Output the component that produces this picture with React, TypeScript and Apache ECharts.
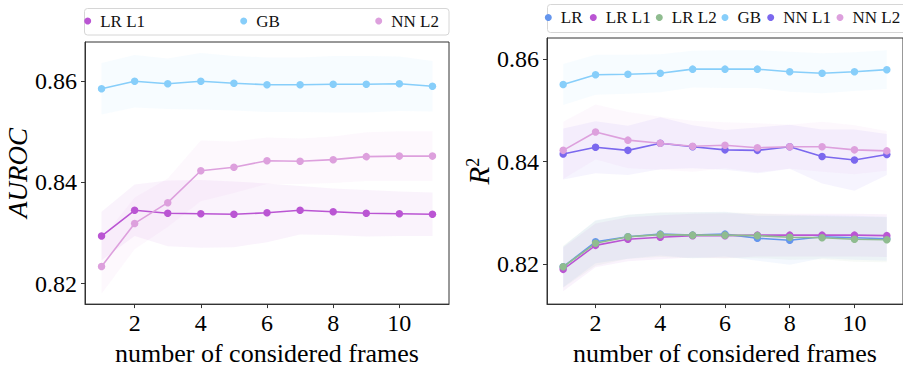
import React, { useEffect, useRef } from "react";
import * as echarts from "echarts";

const frames = ["1", "2", "3", "4", "5", "6", "7", "8", "9", "10", "11"];
const yTicks = [0.82, 0.84, 0.86];

// Left panel: AUROC (mean and std)
const aurocLRL1 = [0.8294, 0.8345, 0.8339, 0.8338, 0.8337, 0.834, 0.8345, 0.8342, 0.8339, 0.8338, 0.8337];
const aurocLRL1Std = [0.0048, 0.0051, 0.0065, 0.0067, 0.0065, 0.0058, 0.0048, 0.0046, 0.0046, 0.0044, 0.0043];
const aurocGB = [0.8585, 0.86, 0.8595, 0.86, 0.8596, 0.8593, 0.8593, 0.8594, 0.8594, 0.8595, 0.859];
const aurocGBStd = [0.0051, 0.0052, 0.005, 0.0056, 0.0054, 0.0054, 0.0054, 0.0056, 0.0056, 0.0054, 0.005];
const aurocNNL2 = [0.8234, 0.8319, 0.836, 0.8423, 0.843, 0.8443, 0.8442, 0.8445, 0.8451, 0.8452, 0.8452];
const aurocNNL2Std = [0.0054, 0.0051, 0.0048, 0.006, 0.0051, 0.0046, 0.0045, 0.0046, 0.0048, 0.0049, 0.0049];

// Right panel: R^2 (mean and std)
const r2LR = [0.8194, 0.8243, 0.8253, 0.8258, 0.8256, 0.8258, 0.825, 0.8246, 0.8253, 0.8251, 0.8249];
const r2LRStd = [0.004, 0.0042, 0.0043, 0.0042, 0.0045, 0.0044, 0.0044, 0.0048, 0.0042, 0.0043, 0.0043];
const r2LRL1 = [0.8189, 0.8236, 0.8248, 0.8252, 0.8255, 0.8255, 0.8256, 0.8256, 0.8256, 0.8256, 0.8255];
const r2LRL1Std = [0.0043, 0.0043, 0.0043, 0.0043, 0.0043, 0.0044, 0.0042, 0.0042, 0.0042, 0.0042, 0.0042];
const r2LRL2 = [0.8194, 0.824, 0.8253, 0.8257, 0.8256, 0.8256, 0.8255, 0.8252, 0.8251, 0.8248, 0.8247];
const r2LRL2Std = [0.0041, 0.0044, 0.0043, 0.0044, 0.0045, 0.0045, 0.0044, 0.0044, 0.0042, 0.0044, 0.0044];
const r2GB = [0.8551, 0.857, 0.8571, 0.8573, 0.8581, 0.8581, 0.8581, 0.8576, 0.8573, 0.8576, 0.858];
const r2GBStd = [0.004, 0.0039, 0.0038, 0.0037, 0.0036, 0.0037, 0.0037, 0.0039, 0.0039, 0.0038, 0.0038];
const r2NNL1 = [0.8415, 0.8428, 0.8422, 0.8436, 0.8429, 0.8423, 0.8422, 0.8429, 0.841, 0.8403, 0.8414];
const r2NNL1Std = [0.005, 0.0051, 0.0048, 0.0051, 0.0042, 0.0039, 0.0045, 0.0043, 0.0053, 0.006, 0.004];
const r2NNL2 = [0.8422, 0.8458, 0.8442, 0.8436, 0.843, 0.8432, 0.8427, 0.8429, 0.8429, 0.8423, 0.8421];
const r2NNL2Std = [0.0056, 0.0054, 0.0055, 0.0052, 0.005, 0.0045, 0.0048, 0.0043, 0.0049, 0.0048, 0.0039];

const COLORS: Record<string, string> = {
  "LR": "#6495ED",
  "LR L1": "#BA55D3",
  "LR L2": "#8FBC8F",
  "GB": "#87CEFA",
  "NN L1": "#7B68EE",
  "NN L2": "#DDA0DD",
};

const FONT = "Liberation Serif";

function hexToRgba(hex: string, a: number) {
  const n = parseInt(hex.slice(1), 16);
  return `rgba(${(n >> 16) & 255},${(n >> 8) & 255},${n & 255},${a})`;
}

function modelSeries(panel: number, name: string, mean: number[], std: number[]) {
  const color = COLORS[name];
  const stackKey = `band-${panel}-${name}`;
  const lower = mean.map((m, i) => m - std[i]);
  const width = std.map((s) => 2 * s);
  return [
    {
      name: `__lo_${panel}_${name}`,
      type: "line",
      xAxisIndex: panel,
      yAxisIndex: panel,
      data: lower,
      stack: stackKey,
      symbol: "none",
      lineStyle: { opacity: 0 },
      silent: true,
      z: 1,
    },
    {
      name: `__band_${panel}_${name}`,
      type: "line",
      xAxisIndex: panel,
      yAxisIndex: panel,
      data: width,
      stack: stackKey,
      symbol: "none",
      lineStyle: { opacity: 0 },
      areaStyle: { color: hexToRgba(color, 0.1), origin: "auto" },
      silent: true,
      z: 1,
    },
    {
      name,
      type: "line",
      xAxisIndex: panel,
      yAxisIndex: panel,
      data: mean,
      symbol: "circle",
      symbolSize: 7.5,
      itemStyle: { color },
      lineStyle: { color, width: 1.6 },
      z: 3,
    },
  ];
}

function legendItem(name: string, left: number, top: number) {
  return {
    data: [{ name, icon: "circle" }],
    left,
    top,
    orient: "horizontal",
    itemWidth: 15,
    itemHeight: 7,
    itemGap: 0,
    padding: 0,
    selectedMode: false,
    textStyle: { fontFamily: FONT, fontSize: 17, color: "#111", lineHeight: 20 },
  };
}

const axisLineStyle = { color: "#333", width: 1 };

function xAxisFor(gridIndex: number) {
  return {
    type: "category",
    gridIndex,
    data: frames,
    boundaryGap: true,
    axisLine: { show: true, lineStyle: axisLineStyle },
    axisTick: {
      show: true,
      alignWithLabel: true,
      length: 4,
      interval: (idx: number) => idx % 2 === 1,
      lineStyle: axisLineStyle,
    },
    axisLabel: {
      interval: (idx: number) => idx % 2 === 1,
      fontFamily: FONT,
      fontSize: 24,
      color: "#000",
      margin: 7,
    },
    splitLine: { show: false },
    name: "number of considered frames",
    nameLocation: "middle",
    nameGap: 30,
    nameTextStyle: { fontFamily: FONT, fontSize: 26, color: "#000" },
  };
}

function yAxisFor(gridIndex: number, min: number, max: number, name: string, nameGap: number, rich?: any) {
  return {
    type: "value",
    gridIndex,
    min,
    max,
    axisLine: { show: true, lineStyle: axisLineStyle },
    axisTick: { show: true, length: 4, lineStyle: axisLineStyle, customValues: yTicks },
    axisLabel: {
      fontFamily: FONT,
      fontSize: 24,
      color: "#000",
      margin: 8,
      customValues: yTicks,
      formatter: (v: number) => v.toFixed(2),
    },
    splitLine: { show: false },
    name,
    nameLocation: "middle",
    nameGap,
    nameRotate: 90,
    nameTextStyle: rich
      ? { fontFamily: FONT, fontSize: 28, color: "#000", rich }
      : { fontFamily: FONT, fontSize: 27, fontStyle: "italic", color: "#000" },
  };
}

export default function App() {
  const ref = useRef<HTMLDivElement>(null);
  useEffect(() => {
    if (!ref.current) return;
    const chart = echarts.init(ref.current, undefined, { renderer: "svg" });
    const series = [
      ...modelSeries(0, "LR L1", aurocLRL1, aurocLRL1Std),
      ...modelSeries(0, "GB", aurocGB, aurocGBStd),
      ...modelSeries(0, "NN L2", aurocNNL2, aurocNNL2Std),
      ...modelSeries(1, "LR", r2LR, r2LRStd),
      ...modelSeries(1, "LR L1", r2LRL1, r2LRL1Std),
      ...modelSeries(1, "LR L2", r2LRL2, r2LRL2Std),
      ...modelSeries(1, "GB", r2GB, r2GBStd),
      ...modelSeries(1, "NN L1", r2NNL1, r2NNL1Std),
      ...modelSeries(1, "NN L2", r2NNL2, r2NNL2Std),
    ];
    chart.setOption({
      animation: false,
      backgroundColor: "#fff",
      textStyle: { fontFamily: FONT },
      graphic: [
        {
          type: "rect",
          shape: { x: 84.5, y: 8.5, width: 364.5, height: 26.5, r: 3 },
          style: { fill: "#fff", stroke: "#d6d6d6", lineWidth: 1 },
          z: -1,
        },
        {
          type: "rect",
          shape: { x: 547.5, y: 4.5, width: 370, height: 28, r: 3 },
          style: { fill: "#fff", stroke: "#d6d6d6", lineWidth: 1 },
          z: -1,
        },
      ],
      legend: [
        legendItem("LR L1", 84.2, 11),
        legendItem("GB", 240.2, 11),
        legendItem("NN L2", 375.2, 11),
        legendItem("LR", 544.8, 7.5),
        legendItem("LR L1", 589.8, 7.5),
        legendItem("LR L2", 655.8, 7.5),
        legendItem("GB", 721.5, 7.5),
        legendItem("NN L1", 767.2, 7.5),
        legendItem("NN L2", 836.5, 7.5),
      ],
      grid: [
        { left: 85, top: 42, width: 364, height: 270, show: true, borderColor: "#333", borderWidth: 1, backgroundColor: "transparent" },
        { left: 547, top: 38, width: 363, height: 271, show: true, borderColor: "#333", borderWidth: 1, backgroundColor: "transparent" },
      ],
      xAxis: [xAxisFor(0), xAxisFor(1)],
      yAxis: [
        yAxisFor(0, 0.81596, 0.86775, "AUROC", 51),
        yAxisFor(1, 0.8121, 0.8642, "{i|R}{s|2}", 46, {
          i: { fontFamily: FONT, fontSize: 29, fontStyle: "italic", color: "#000" },
          s: { fontFamily: FONT, fontSize: 18, color: "#000", verticalAlign: "top", padding: [0, 0, 10, 0] },
        }),
      ],
      series,
    });
    return () => chart.dispose();
  }, []);
  return <div ref={ref} style={{ position: "fixed", left: 0, top: 0, width: 903, height: 371 }} />;
}
